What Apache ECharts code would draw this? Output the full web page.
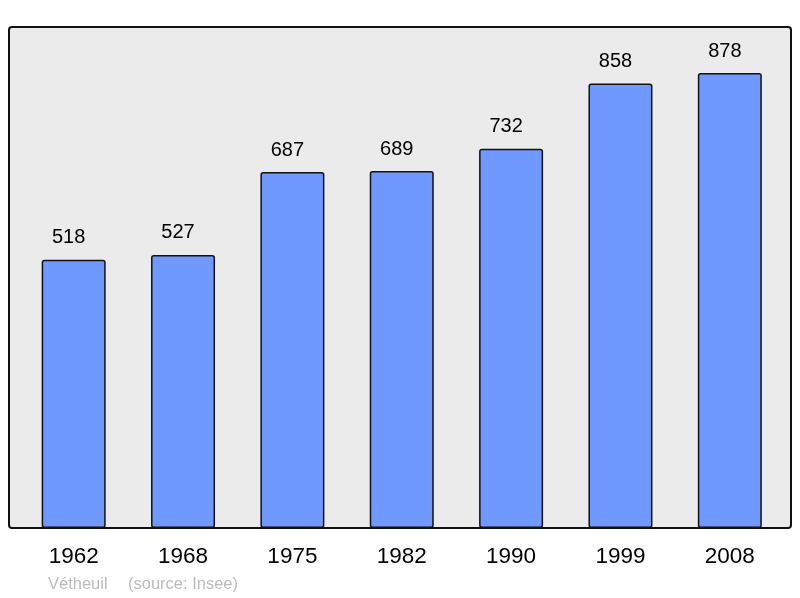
<!DOCTYPE html>
<html>
<head>
<meta charset="utf-8">
<script src="https://cdn.jsdelivr.net/npm/echarts@6/dist/echarts.min.js"></script>
<style>html,body{margin:0;padding:0;background:#fff;}#c{width:800px;height:598px;}</style>
</head>
<body>
<div id="c"></div>
<script>
const years = ['1962','1968','1975','1982','1990','1999','2008'];
const population = [518, 527, 687, 689, 732, 858, 878];
const place = 'Vétheuil';
const source = '(source: Insee)';

const chart = echarts.init(document.getElementById('c'), null, {renderer: 'canvas'});
chart.setOption({
  animation: false,
  backgroundColor: '#ffffff',
  graphic: [
    {type: 'rect', z: 0, shape: {x: 9, y: 27, width: 782, height: 501, r: 3},
     style: {fill: '#ebebeb', stroke: '#111', lineWidth: 2}},
    {type: 'text', left: 48, top: 576, style: {text: place, fill: '#bbbbbb', font: '16.5px "Liberation Sans", Arial, sans-serif'}},
    {type: 'text', left: 128, top: 576, style: {text: source, fill: '#bbbbbb', font: '16.5px "Liberation Sans", Arial, sans-serif'}}
  ],
  grid: {left: 19, top: 27, width: 765.5, height: 501},
  xAxis: {
    type: 'category', data: years,
    axisLine: {show: false}, axisTick: {show: false},
    axisLabel: {margin: 17, fontSize: 22.5, color: '#000', fontFamily: '"Liberation Sans", Arial, sans-serif'}
  },
  yAxis: {type: 'value', min: 0, max: 967, show: false, splitLine: {show: false}},
  series: [{
    type: 'bar', data: population, barWidth: 64,
    itemStyle: {color: '#7099ff', borderColor: '#111', borderWidth: 1.5, borderRadius: 2},
    label: {show: true, position: 'top', distance: 12, offset: [-5, 0], fontSize: 20, color: '#000',
            fontFamily: '"Liberation Sans", Arial, sans-serif'}
  }]
});
</script>
</body>
</html>
